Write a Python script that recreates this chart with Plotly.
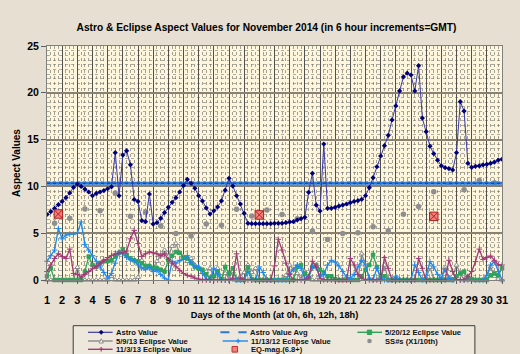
import plotly.graph_objects as go

# ---------------- data ----------------
day_labels = [str(d) for d in range(1, 32)]
n_steps = 121  # 6-hour steps from Nov 1 0h to Nov 31 0h
steps = [1 + i * 0.25 for i in range(n_steps)]

astro_value = [
    7.0, 7.3, 7.65, 8.05, 8.4, 8.8, 9.3, 9.9, 10.25, 10.0,
    9.7, 9.4, 9.0, 9.25, 9.4, 9.55, 9.75, 9.95, 13.6, 9.0,
    13.35, 13.8, 12.3, 8.6, 8.4, 6.34, 6.23, 9.19, 5.98, 6.12,
    6.59, 7.19, 7.76, 8.3, 8.8, 9.4, 10.1, 10.76, 10.33, 9.8,
    9.0, 8.44, 7.7, 7.05, 7.4, 7.8, 8.45, 9.6, 10.86, 10.04,
    9.0, 8.12, 7.12, 6.05, 6.02, 6.02, 6.02, 6.02, 6.02, 6.02,
    6.05, 6.05, 6.05, 6.12, 6.2, 6.23, 6.41, 6.55, 6.7, 9.37,
    11.4, 8.01, 7.37, 14.53, 7.66, 7.66, 7.76, 7.9, 8.01, 8.12,
    8.26, 8.4, 8.47, 8.62, 9.0, 9.86, 10.93, 12.1, 13.25, 14.35,
    15.46, 17.1, 18.6, 20.2, 21.7, 22.1, 21.9, 20.2, 22.9, 17.3,
    15.85, 14.3, 13.5, 12.8, 12.2, 12.0, 11.9, 11.75, 13.6, 19.05,
    18.05, 12.46, 12.04, 12.15, 12.2, 12.29, 12.36, 12.46, 12.6, 12.8,
    12.9,
]
astro_avg = 10.33

ecl_052012 = [
    0.4, 1.25, 0, 0, 0, 0, 0, 0, 0, 0,
    0.9, 2.5, 1.6, 1.4, 1.8, 2.0, 2.0, 2.1, 2.5, 2.9,
    3.3, 2.7, 2.3, 2.1, 2.0, 1.8, 1.5, 1.5, 1.3, 1.25,
    1.1, 0.9, 2.1, 2.6, 3.0, 2.9, 2.4, 2.3, 1.8, 1.4,
    1.2, 1.1, 0.6, 0.2, 0.4, 0.9, 0.1, 1.4, 0.7, 1.25,
    0, 0, 0, 1.35, 0.1, 0, 0, 0, 0, 0,
    0, 0, 0, 0, 0, 0, 1.4, 1.6, 0.7, 0.2,
    1.4, 1.6, 1.1, 0.8, 0.4, 0.4, 0.1, 0, 0, 0,
    0, 0, 0, 0.4, 1.1, 1.6, 2.7, 1.4, 0.2, 0.4,
    0, 0, 0, 0, 0, 0, 0, 0, 0, 0,
    0, 0, 0, 0, 0, 0, 0, 0, 0.4, 0.7,
    0.9, 0.2, 0.1, 0, 0, 0, 0, 0.5, 0.7, 0.5,
    1.25,
]
ecl_050913 = [
    0, 0, 0, 0, 0, 0, 0, 0, 1.35, 0,
    0, 0, 0, 0, 0, 0, 0, 0.4, 0, 0,
    0, 0, 0, 0, 0.3, 2.1, 1.4, 1.3, 1.25, 2.0,
    2.6, 3.2, 2.5, 3.6, 3.9, 2.85, 2.5, 2.0, 2.3, 1.6,
    1.25, 0.8, 0.9, 1.25, 0.4, 1.25, 0.35, 0.7, 0.2, 0.9,
    0.1, 0.4, 0.8, 1.6, 0.8, 1.25, 0.1, 0, 0, 0,
    0, 0, 0, 0.5, 1.6, 1.1, 0.7, 0.1, 0.9, 0.35,
    0, 0, 0, 0, 0, 0, 0, 0, 0, 0,
    0, 0, 0, 2.8, 1.6, 0.1, 0, 0, 0, 1.6,
    0, 0, 0, 0, 0, 0, 0, 0, 0, 0,
    0.2, 1.35, 0.1, 0, 0.4, 1.35, 0.2, 0.4, 1.6, 0.7,
    0, 0, 0, 0, 0, 0, 0.4, 1.4, 0.4, 0.1,
    0,
]
ecl_111312 = [
    2.0, 2.6, 3.2, 5.5, 4.4, 4.8, 4.9, 4.9, 5.0, 6.2,
    3.8, 3.2, 2.6, 2.0, 1.4, 0.8, 0.2, 0.7, 1.8, 3.0,
    2.8, 2.4, 2.2, 2.0, 1.6, 1.3, 1.1, 1.4, 0.9, 1.0,
    0.6, 0.2, 0, 2.0, 1.8, 2.1, 2.2, 2.6, 1.9, 1.5,
    1.4, 0.7, 0.1, 0, 1.25, 0.6, 0, 0, 0, 0.1,
    0, 0, 0, 0.9, 0, 0, 1.4, 0.8, 0, 0,
    0, 0, 0, 0, 0.7, 1.1, 1.6, 1.25, 0.1, 0.4,
    1.4, 1.3, 0.4, 0.6, 1.6, 2.1, 1.9, 1.5, 0.9, 0.3,
    0.2, 0.6, 1.4, 2.1, 1.6, 0.2, 0, 1.25, 0.2, 0,
    0, 0, 0.4, 0, 0, 0, 0, 1.6, 0.8, 0,
    0.5, 1.96, 1.4, 0.6, 0.2, 1.1, 0.2, 0, 0, 0,
    0, 0, 0, 0, 0, 0, 0.5, 1.6, 1.96, 0.9,
    0,
]
ecl_110313 = [
    0.9, 1.6, 2.3, 2.8, 2.5, 2.3, 3.3, 0.7, 0.6, 0.3,
    0.6, 0.9, 1.2, 1.5, 1.8, 2.1, 2.4, 2.6, 2.8, 2.85,
    2.9, 3.1, 4.4, 5.3, 3.9, 2.5, 2.8, 3.0, 2.9, 2.8,
    2.6, 2.8, 2.2, 1.8, 1.4, 1.0, 0.7, 0.5, 0.4, 0.2,
    0.1, 0, 0, 0, 0, 0, 0, 0, 0, 0.2,
    2.8, 0.2, 0, 0, 0, 0, 0, 0, 0, 0,
    1.5, 4.35, 3.2, 1.8, 0.6, 0, 0, 0, 0, 0.3,
    2.0, 1.4, 0.2, 0, 0, 0, 0, 0, 0, 0,
    2.3, 1.6, 0.6, 0.2, 0, 0, 0, 0, 0, 2.4,
    1.25, 0, 0, 0, 0, 0, 0, 0, 2.3, 1.25,
    0, 0, 0, 0, 0, 0, 2.1, 0.9, 0, 0,
    0, 0.4, 0.9, 1.96, 3.3, 2.2, 2.4, 2.56, 2.1, 1.6,
    1.6,
]
ss_days = [d + 0.5 for d in range(1, 31)]
ss_values = [
    6.05, 6.6, 7.58, 7.4, 9.3, 6.8, 7.23, 5.77, 4.98, 4.7,
    5.98, 5.85, 7.55, 6.84, 7.48, 7.0, 6.55, 5.23, 4.34, 4.98,
    5.06, 5.7, 5.27, 7.03, 7.85, 9.43, 10.26, 9.65, 10.64, 10.4,
]
eq_days = [1.75, 15.0, 26.5]
eq_values = [7.05, 6.95, 6.8]

# ---------------- styles ----------------
W, H = 520, 354
ML, MR, MT, MB = 46.7, 11.5, 46, 74
PW = W - ML - MR
PH = H - MT - MB
FONT = "Liberation Sans, Arial, sans-serif"

C_ASTRO_LINE = "#3A3AA8"
C_ASTRO_MK = "#00007A"
C_AVG = "#2A78D8"
C_GREEN = "#2FA35A"
C_GRAY = "#8A8A8A"
C_BLUE = "#1E8AF0"
C_MAG = "#A33A78"
C_SS = "#8E8E8E"
C_EQ = "#F0807A"

fig = go.Figure()

def ecl(name, vals, color, symbol, mcolor, mline=None, size=4):
    fig.add_trace(go.Scatter(
        x=steps, y=vals, name=name, mode="lines+markers",
        line=dict(color=color, width=1.3),
        marker=dict(symbol=symbol, size=size, color=mcolor,
                    line=dict(color=mline or color, width=1)),
        showlegend=False, cliponaxis=False,
    ))

ecl("5/9/13 Eclipse Value", ecl_050913, C_GRAY, "triangle-up", "white", C_GRAY, 4.5)
ecl("5/20/12 Eclipse Value", ecl_052012, C_GREEN, "square", C_GREEN, C_GREEN, 3.5)
ecl("11/13/12 Eclipse Value", ecl_111312, C_BLUE, "cross-thin", C_BLUE, C_BLUE, 4)
ecl("11/3/13 Eclipse Value", ecl_110313, C_MAG, "cross-thin", C_MAG, C_MAG, 4)

fig.add_trace(go.Scatter(
    x=ss_days, y=ss_values, name="SS#s (X1/10th)", mode="markers",
    marker=dict(symbol="circle", size=5.5, color=C_SS), showlegend=False))

fig.add_trace(go.Scatter(
    x=[steps[0], steps[-1]], y=[astro_avg, astro_avg], name="Astro Value Avg",
    mode="lines", line=dict(color=C_AVG, width=3), showlegend=False))
fig.add_trace(go.Scatter(
    x=[steps[0], steps[-1]], y=[astro_avg, astro_avg], mode="lines",
    line=dict(color="#1C3F9A", width=1, dash="dot"), showlegend=False, hoverinfo="skip"))

fig.add_trace(go.Scatter(
    x=steps, y=astro_value, name="Astro Value", mode="lines+markers",
    line=dict(color=C_ASTRO_LINE, width=1),
    marker=dict(symbol="diamond", size=4, color=C_ASTRO_MK), showlegend=False))

fig.add_trace(go.Scatter(
    x=eq_days, y=eq_values, name="EQ-mag.(6.8+)", mode="markers",
    marker=dict(symbol="square-x", size=8.5, color=C_EQ, line=dict(color="#B02020", width=1)),
    showlegend=False))

# ---------------- manual compact legend ----------------
def pxx(x):
    return (x - ML) / PW

def pyy(y):
    return (H - MB - y) / PH

shapes = []
annotations = []
shapes.append(dict(type="rect", xref="paper", yref="paper",
                   x0=pxx(73.3), x1=pxx(481), y0=pyy(356), y1=pyy(325.7),
                   line=dict(color="#3A3A3A", width=1), fillcolor="#EEE8DC", layer="above"))

def leg_line(x0, x1, y, color, dash="solid", width=1.4):
    shapes.append(dict(type="line", xref="paper", yref="paper",
                       x0=pxx(x0), x1=pxx(x1), y0=pyy(y), y1=pyy(y),
                       line=dict(color=color, width=width, dash=dash), layer="above"))

def leg_marker(kind, xc, y, color, lcolor=None, s=2.2):
    if kind == "rect":
        shapes.append(dict(type="rect", xref="paper", yref="paper",
                           x0=pxx(xc - s), x1=pxx(xc + s), y0=pyy(y + s), y1=pyy(y - s),
                           fillcolor=color, line=dict(color=lcolor or color, width=1), layer="above"))
    elif kind == "circle":
        shapes.append(dict(type="circle", xref="paper", yref="paper",
                           x0=pxx(xc - s), x1=pxx(xc + s), y0=pyy(y + s), y1=pyy(y - s),
                           fillcolor=color, line=dict(color=lcolor or color, width=0), layer="above"))
    elif kind == "tri":
        path = "M {} {} L {} {} L {} {} Z".format(pxx(xc - s), pyy(y + s * 0.9), pxx(xc + s), pyy(y + s * 0.9), pxx(xc), pyy(y - s))
        shapes.append(dict(type="path", xref="paper", yref="paper", path=path,
                           fillcolor="white", line=dict(color=lcolor, width=1), layer="above"))
    elif kind == "cross":
        leg_line(xc - s, xc + s, y, color, width=1.2)
        shapes.append(dict(type="line", xref="paper", yref="paper",
                           x0=pxx(xc), x1=pxx(xc), y0=pyy(y - s), y1=pyy(y + s),
                           line=dict(color=color, width=1.2), layer="above"))
    elif kind == "diamond":
        path = "M {} {} L {} {} L {} {} L {} {} Z".format(pxx(xc - s), pyy(y), pxx(xc), pyy(y - s), pxx(xc + s), pyy(y), pxx(xc), pyy(y + s))
        shapes.append(dict(type="path", xref="paper", yref="paper", path=path,
                           fillcolor=color, line=dict(color=color, width=0.5), layer="above"))

def leg_text(x, y, text):
    annotations.append(dict(xref="paper", yref="paper", x=pxx(x), y=pyy(y), text="<b>" + text + "</b>",
                            showarrow=False, xanchor="left", yanchor="middle",
                            font=dict(family=FONT, size=7.6, color="#101010")))

R1, R2, R3 = 332.3, 341.0, 349.3
# column 1
leg_line(88.3, 113.3, R1, C_ASTRO_LINE, width=1.2); leg_marker("diamond", 101.7, R1, C_ASTRO_MK); leg_text(114.5, R1, "Astro Value")
leg_line(88.3, 113.3, R2, C_GRAY); leg_marker("tri", 101.7, R2, "white", C_GRAY); leg_text(114.5, R2, "5/9/13 Eclipse Value")
leg_line(88.3, 113.3, R3, C_MAG); leg_marker("cross", 101.7, R3, C_MAG); leg_text(114.5, R3, "11/3/13 Eclipse Value")
# column 2
leg_line(222.7, 249.3, R1, C_AVG, dash="dash", width=2); leg_text(250.3, R1, "Astro Value Avg")
leg_line(225, 250.7, R2, C_BLUE); leg_marker("cross", 240.7, R2, C_BLUE); leg_text(251.3, R2, "11/13/12 Eclipse Value")
leg_marker("rect", 237.3, R3, C_EQ, "#C03030", s=2.8); leg_text(251.3, R3, "EQ-mag.(6.8+)")
# column 3
leg_line(361.7, 386.7, R1, C_GREEN); leg_marker("rect", 374, R1, C_GREEN); leg_text(387.3, R1, "5/20/12 Eclipse Value")
leg_marker("circle", 374, R2, C_SS, s=2.3); leg_text(387.3, R2, "SS#s (X1/10th)")

fig.update_layout(
    width=W, height=H,
    margin=dict(l=ML, r=MR, t=MT, b=MB, pad=0),
    paper_bgcolor="#E6DFD2",
    plot_bgcolor="#FDF5DC",
    font=dict(family=FONT, color="#000000"),
    showlegend=False,
    title=dict(text="<b>Astro & Eclipse Aspect Values for November 2014 (in 6 hour increments=GMT)</b>",
               x=266.5 / W, xanchor="center", y=(H - 27) / H, yanchor="middle",
               font=dict(family=FONT, size=10.2, color="#000000")),
    shapes=shapes,
    annotations=annotations,
)

fig.update_xaxes(
    range=[1, 31], tickmode="array", tickvals=list(range(1, 32)), ticktext=day_labels,
    tickfont=dict(family=FONT, size=11, color="#000000", weight="bold"),
    ticks="outside", ticklen=3, tickcolor="#606060", ticklabelstandoff=7,
    showgrid=True, gridcolor="#505050", gridwidth=1,
    minor=dict(dtick=0.25, showgrid=True, gridcolor="rgba(90,90,90,0.55)", griddash="dot", gridwidth=1),
    showline=True, linecolor="#808080", mirror=True, zeroline=False,
    title=dict(text="<b>Days of the Month (at 0h, 6h, 12h, 18h)</b>",
               font=dict(family=FONT, size=9.2, color="#000000"), standoff=6),
)
fig.update_yaxes(
    range=[0, 25], tickmode="array", tickvals=[0, 5, 10, 15, 20, 25],
    tickfont=dict(family=FONT, size=10.5, color="#000000", weight="bold"),
    ticks="outside", ticklen=5, tickcolor="#606060",
    showgrid=True, gridcolor="#8A8170", gridwidth=1.5,
    minor=dict(dtick=0.5, showgrid=True, gridcolor="rgba(110,110,110,0.55)", griddash="dot", gridwidth=1),
    showline=True, linecolor="#808080", mirror=True, zeroline=False,
    title=dict(text="<b>Aspect Values</b>", font=dict(family=FONT, size=10, color="#000000"), standoff=4),
)

fig.write_html("out.html")
